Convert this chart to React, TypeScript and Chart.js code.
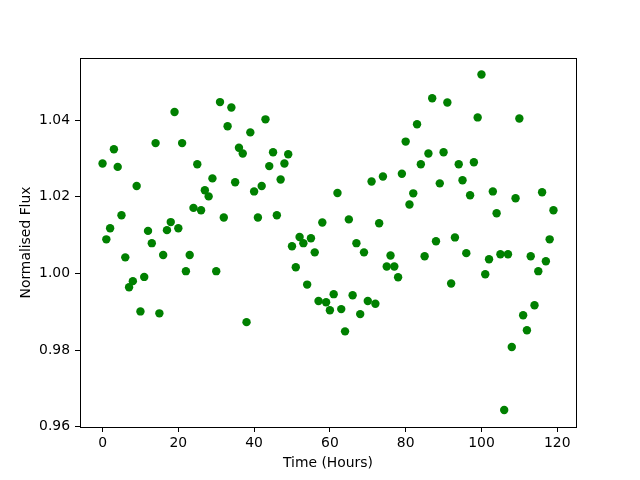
import React, { useEffect, useRef } from "react";
import { Chart, registerables } from "chart.js";

Chart.register(...registerables);

const hours: number[] = Array.from({ length: 120 }, (_, i) => i);

const flux: number[] = [
  1.0287, 1.0089, 1.0118, 1.0324, 1.0278, 1.0152, 1.0042, 0.9964, 0.998, 1.0228,
  0.9901, 0.9991, 1.0111, 1.0079, 1.034, 0.9896, 1.0048, 1.0113, 1.0134, 1.0421,
  1.0118, 1.034, 1.0006, 1.0048, 1.0171, 1.0285, 1.0165, 1.0217, 1.0201, 1.0248,
  1.0006, 1.0447, 1.0146, 1.0384, 1.0433, 1.0238, 1.0328, 1.0313, 0.9873, 1.0368,
  1.0214, 1.0146, 1.0228, 1.0402, 1.028, 1.0316, 1.0152, 1.0245, 1.0287, 1.0311,
  1.0071, 1.0016, 1.0095, 1.0079, 0.9971, 1.0092, 1.0055, 0.9928, 1.0133, 0.9925,
  0.9904, 0.9946, 1.021, 0.9907, 0.9849, 1.0141, 0.9943, 1.0079, 0.9894, 1.0055,
  0.9928, 1.024, 0.9921, 1.0131, 1.0253, 1.0018, 1.0047, 1.0018, 0.999, 1.026,
  1.0344, 1.018, 1.0209, 1.0389, 1.0285, 1.0045, 1.0313, 1.0457, 1.0084, 1.0235,
  1.0316, 1.0446, 0.9974, 1.0094, 1.0285, 1.0243, 1.0053, 1.0204, 1.029, 1.0407,
  1.0519, 0.9998, 1.0037, 1.0214, 1.0157, 1.005, 0.9644, 1.005, 0.9808, 1.0196,
  1.0404, 0.9891, 0.9852, 1.0045, 0.9917, 1.0006, 1.0212, 1.0032, 1.0089, 1.0165,
];

const xTicks: number[] = [0, 20, 40, 60, 80, 100, 120];
const yTicks: number[] = [0.96, 0.98, 1.0, 1.02, 1.04];

const xLabel = "Time (Hours)";
const yLabel = "Normalised Flux";

const FONT = "'DejaVu Sans', sans-serif";

const framePlugin = {
  id: "frame",
  afterDraw(chart: any) {
    const { ctx, chartArea } = chart;
    ctx.save();
    ctx.strokeStyle = "#000";
    ctx.lineWidth = 1;
    ctx.strokeRect(
      Math.round(chartArea.left) + 0.5,
      Math.round(chartArea.top) + 0.5,
      Math.round(chartArea.right - chartArea.left),
      Math.round(chartArea.bottom - chartArea.top)
    );
    ctx.restore();
  },
};

export default function App() {
  const ref = useRef<HTMLCanvasElement | null>(null);

  useEffect(() => {
    if (!ref.current) return;
    const chart = new Chart(ref.current, {
      type: "scatter",
      data: {
        datasets: [
          {
            data: hours.map((h, i) => ({ x: h, y: flux[i] })),
            backgroundColor: "#008000",
            borderWidth: 0,
            pointRadius: 4.2,
            pointHoverRadius: 4.2,
          },
        ],
      },
      options: {
        animation: false,
        responsive: false,
        devicePixelRatio: 1,
        layout: { padding: { top: 58, right: 64, left: 0, bottom: 0 } },
        plugins: { legend: { display: false }, tooltip: { enabled: false } },
        scales: {
          x: {
            type: "linear",
            min: -5.95,
            max: 124.95,
            afterBuildTicks: (axis: any) => {
              axis.ticks = xTicks.map((v) => ({ value: v }));
            },
            afterFit: (axis: any) => {
              axis.height = 53;
            },
            ticks: {
              color: "#000",
              font: { family: FONT, size: 13.9 },
              padding: 3,
              maxRotation: 0,
              autoSkip: false,
            },
            grid: {
              drawOnChartArea: false,
              drawTicks: true,
              tickLength: 5,
              tickColor: "#000",
            },
            border: { display: false },
            title: {
              display: true,
              text: xLabel,
              color: "#000",
              font: { family: FONT, size: 13.9 },
              padding: { top: 0, bottom: 8.5 },
            },
          },
          y: {
            type: "linear",
            min: 0.95995,
            max: 1.0562,
            afterBuildTicks: (axis: any) => {
              axis.ticks = yTicks.map((v) => ({ value: v }));
            },
            afterFit: (axis: any) => {
              axis.width = 80;
            },
            ticks: {
              color: "#000",
              font: { family: FONT, size: 13.9 },
              padding: 5,
              autoSkip: false,
              callback: (v: any) => Number(v).toFixed(2),
            },
            grid: {
              drawOnChartArea: false,
              drawTicks: true,
              tickLength: 5,
              tickColor: "#000",
            },
            border: { display: false },
            title: {
              display: true,
              text: yLabel,
              color: "#000",
              font: { family: FONT, size: 13.9 },
              padding: { top: 18.5, bottom: 0 },
            },
          },
        },
      },
      plugins: [framePlugin],
    });
    return () => chart.destroy();
  }, []);

  return (
    <canvas
      ref={ref}
      width={640}
      height={480}
      style={{ position: "fixed", left: 0, top: 0, width: 640, height: 480, background: "#fff" }}
    />
  );
}
